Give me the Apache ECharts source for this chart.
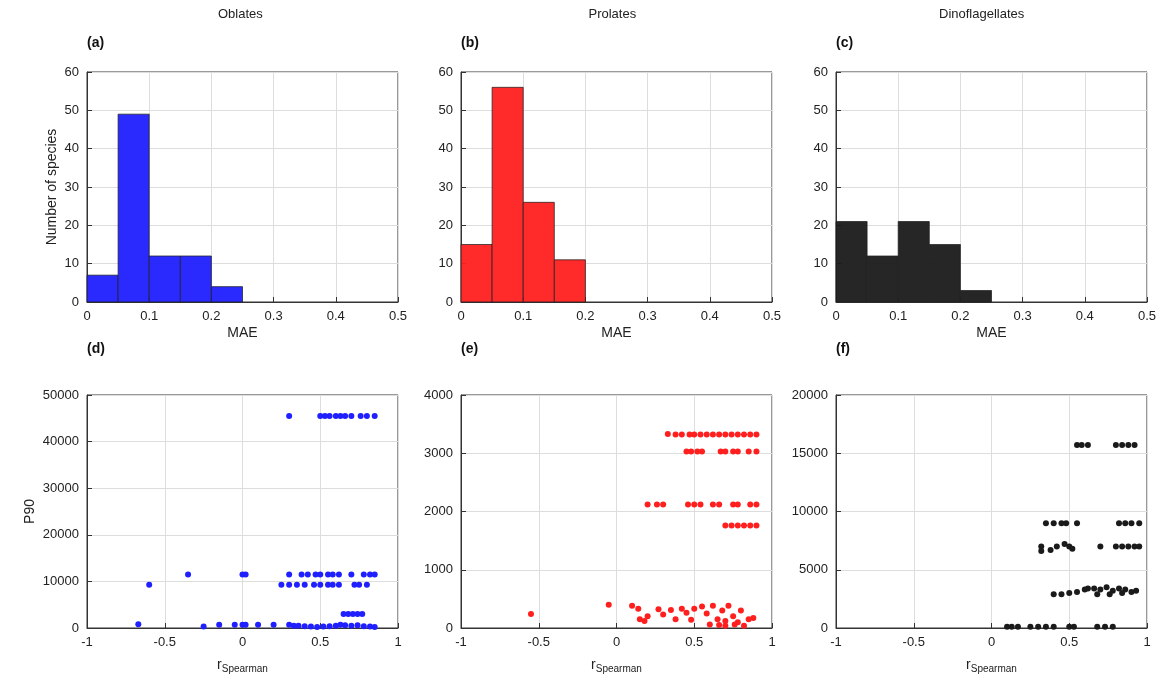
<!DOCTYPE html>
<html><head><meta charset="utf-8">
<script src="https://cdn.jsdelivr.net/npm/echarts@6/dist/echarts.min.js"></script>
<style>html,body{margin:0;background:#fff}#c{width:1174px;height:695px}</style>
</head><body><div id="c"></div>
<script>
// histogram counts, bins of 0.05 starting at 0
var binStarts = [0, 0.05, 0.1, 0.15, 0.2]
var oblateCounts = [7, 49, 12, 12, 4]
var prolateCounts = [15, 56, 26, 11]
var dinoCounts = [21, 12, 21, 15, 3]

// scatter: [rSpearman, P90]
var oblatePts = [
  [0.3,45500],[0.5,45500],[0.53,45500],[0.56,45500],[0.6,45500],[0.63,45500],[0.66,45500],[0.7,45500],[0.76,45500],[0.8,45500],[0.85,45500],
  [-0.35,11500],[0,11500],[0.02,11500],[0.3,11500],[0.38,11500],[0.42,11500],[0.47,11500],[0.5,11500],[0.55,11500],[0.58,11500],[0.62,11500],[0.7,11500],[0.78,11500],[0.82,11500],[0.85,11500],
  [-0.6,9300],[0.25,9300],[0.3,9300],[0.35,9300],[0.4,9300],[0.46,9300],[0.5,9300],[0.55,9300],[0.58,9300],[0.62,9300],[0.72,9300],[0.75,9300],[0.8,9300],
  [0.65,3000],[0.68,3000],[0.71,3000],[0.74,3000],[0.77,3000],
  [-0.67,800],[-0.25,300],[-0.15,700],[-0.05,700],[0,700],[0.02,700],[0.1,700],[0.2,700],[0.3,700],[0.33,500],[0.36,500],[0.4,400],[0.44,300],[0.48,200],[0.52,300],[0.56,400],[0.6,500],[0.63,700],[0.66,600],[0.7,500],[0.74,600],[0.78,400],[0.82,300],[0.85,200]
]
var prolatePts = [
  [0.33,3330],[0.38,3320],[0.42,3320],[0.47,3320],[0.5,3320],[0.54,3320],[0.58,3320],[0.62,3320],[0.66,3320],[0.7,3320],[0.74,3320],[0.78,3320],[0.82,3320],[0.86,3320],[0.9,3320],
  [0.45,3030],[0.48,3030],[0.52,3030],[0.55,3030],[0.67,3030],[0.7,3030],[0.75,3030],[0.78,3030],[0.85,3030],[0.9,3030],
  [0.2,2120],[0.26,2120],[0.3,2120],[0.46,2120],[0.5,2120],[0.54,2120],[0.62,2120],[0.66,2120],[0.75,2120],[0.78,2120],[0.86,2120],[0.9,2120],
  [0.7,1760],[0.74,1760],[0.78,1760],[0.82,1760],[0.86,1760],[0.9,1760],
  [-0.55,240],[-0.05,400],[0.1,380],[0.14,330],[0.15,150],[0.18,120],[0.2,200],[0.27,320],[0.3,230],[0.35,310],[0.38,150],[0.42,330],[0.45,260],[0.48,140],[0.5,330],[0.55,370],[0.58,250],[0.6,60],[0.62,380],[0.65,150],[0.68,300],[0.7,40],[0.72,380],[0.75,200],[0.78,100],[0.8,300],[0.82,40],[0.85,150],[0.88,170],[0.7,120],[0.76,60],[0.66,50]
]
var dinoPts = [
  [0.55,15700],[0.58,15700],[0.62,15700],[0.8,15700],[0.84,15700],[0.88,15700],[0.92,15700],
  [0.35,9000],[0.4,9000],[0.45,9000],[0.48,9000],[0.55,9000],[0.82,9000],[0.86,9000],[0.9,9000],[0.95,9000],
  [0.32,7000],[0.32,6600],[0.38,6700],[0.42,7000],[0.47,7200],[0.5,7000],[0.52,6800],[0.7,7000],[0.8,7000],[0.84,7000],[0.88,7000],[0.92,7000],[0.95,7000],
  [0.4,2900],[0.45,2900],[0.5,3000],[0.55,3100],[0.6,3300],[0.62,3400],[0.66,3400],[0.7,3300],[0.74,3500],[0.78,3200],[0.82,3400],[0.86,3300],[0.9,3100],[0.93,3200],[0.68,2900],[0.76,2900],[0.84,3000],
  [0.1,100],[0.13,100],[0.17,100],[0.25,100],[0.3,100],[0.35,100],[0.4,100],[0.5,100],[0.53,100],[0.68,100],[0.73,100],[0.78,100]
]

var colors = ['#1f1fff', '#ff1f1f', '#1a1a1a']
var titles = ['Oblates', 'Prolates', 'Dinoflagellates']
var lefts = [87, 461, 836]
var W = 311
var hist = [oblateCounts, prolateCounts, dinoCounts]
var pts = [oblatePts, prolatePts, dinoPts]
var ymax = [50000, 4000, 20000]
var yint = [10000, 1000, 5000]
var tags = ['(a)', '(b)', '(c)', '(d)', '(e)', '(f)']

var axisLine = { show: true, onZero: false, lineStyle: { color: '#333', width: 1 } }
var splitLine = { show: true, lineStyle: { color: '#ddd' } }
var lab = { color: '#222', fontSize: 13, fontFamily: 'Arial', formatter: function (v) { return String(v) } }

var grid = [], xAxis = [], yAxis = [], series = [], graphic = []
for (var i = 0; i < 3; i++) {
  grid.push({ left: lefts[i], top: 72, width: W, height: 230, show: true, borderColor: '#333', borderWidth: 1 })
  grid.push({ left: lefts[i], top: 395, width: W, height: 233, show: true, borderColor: '#333', borderWidth: 1 })
  xAxis.push({ gridIndex: 2 * i, type: 'value', min: 0, max: 0.5, interval: 0.1, axisLine: axisLine, splitLine: splitLine, axisTick: { inside: true }, axisLabel: lab,
    name: 'MAE', nameLocation: 'middle', nameGap: 24, nameTextStyle: { color: '#222', fontSize: 14 } })
  xAxis.push({ gridIndex: 2 * i + 1, type: 'value', min: -1, max: 1, interval: 0.5, axisLine: axisLine, splitLine: splitLine, axisTick: { inside: true }, axisLabel: lab,
    name: '{a|r}{b|Spearman}', nameLocation: 'middle', nameGap: 28, nameTextStyle: { rich: { a: { fontSize: 14, color: '#222' }, b: { fontSize: 10, color: '#222', padding: [8, 0, 0, 0] } } } })
  yAxis.push({ gridIndex: 2 * i, type: 'value', min: 0, max: 60, interval: 10, axisLine: axisLine, splitLine: splitLine, axisTick: { inside: true }, axisLabel: lab,
    name: i == 0 ? 'Number of species' : '', nameLocation: 'middle', nameGap: 28, nameTextStyle: { color: '#222', fontSize: 14 } })
  yAxis.push({ gridIndex: 2 * i + 1, type: 'value', min: 0, max: ymax[i], interval: yint[i], axisLine: axisLine, splitLine: splitLine, axisTick: { inside: true }, axisLabel: lab,
    name: i == 0 ? 'P90' : '', nameLocation: 'middle', nameGap: 50, nameTextStyle: { color: '#222', fontSize: 14 } })
  var hd = hist[i].map(function (c, k) { return [binStarts[k], c] })
  series.push({ type: 'custom', xAxisIndex: 2 * i, yAxisIndex: 2 * i, data: hd,
    renderItem: (function (col) {
      return function (params, api) {
        var p0 = api.coord([api.value(0), api.value(1)])
        var p1 = api.coord([api.value(0) + 0.05, 0])
        return { type: 'rect', shape: { x: p0[0], y: p0[1], width: p1[0] - p0[0], height: p1[1] - p0[1] },
          style: { fill: col, stroke: '#222', lineWidth: 0.8, opacity: 0.95 } }
      }
    })(colors[i]) })
  series.push({ type: 'scatter', xAxisIndex: 2 * i + 1, yAxisIndex: 2 * i + 1, data: pts[i], symbolSize: 6, itemStyle: { color: colors[i], opacity: 1 } })
  graphic.push({ type: 'text', left: lefts[i] + W / 2 - titles[i].length * 3.5, top: 8, style: { text: titles[i], fontSize: 13, fill: '#222' } })
  graphic.push({ type: 'text', left: lefts[i], top: 36, style: { text: tags[i], fontSize: 14, fontWeight: 'bold', fill: '#111' } })
  graphic.push({ type: 'text', left: lefts[i], top: 342, style: { text: tags[i + 3], fontSize: 14, fontWeight: 'bold', fill: '#111' } })
}

var chart = echarts.init(document.getElementById('c'))
chart.setOption({ animation: false, grid: grid, xAxis: xAxis, yAxis: yAxis, series: series, graphic: graphic })
</script></body></html>
